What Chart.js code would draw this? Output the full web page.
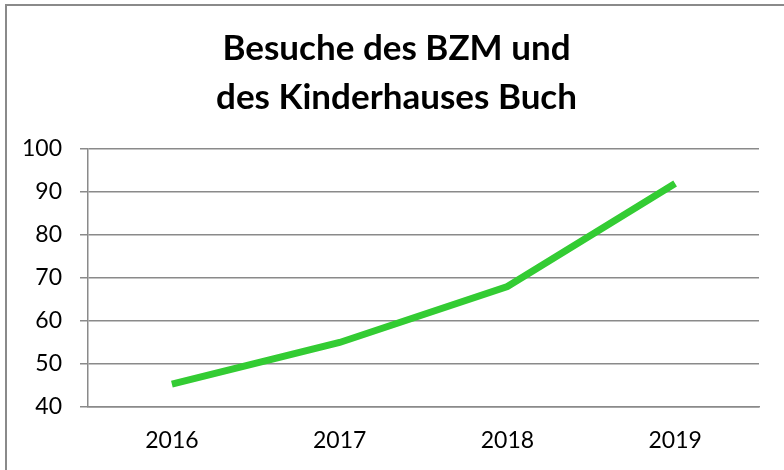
<!DOCTYPE html>
<html>
<head>
<meta charset="utf-8">
<script src="https://cdn.jsdelivr.net/npm/chart.js@4.4.3/dist/chart.umd.min.js"></script>
<style>
  html, body { margin: 0; padding: 0; background: #fff; }
  #wrap { position: relative; width: 784px; height: 470px; overflow: hidden; }
  #frame {
    position: absolute; left: 5px; top: 4px; width: 900px; height: 600px;
    border-left: 2px solid #8a8a8a; border-top: 2px solid #8a8a8a;
  }
  canvas { position: absolute; left: 0; top: 0; }
</style>
</head>
<body>
<div id="wrap">
  <div id="frame"></div>
  <canvas id="c" width="784" height="470"></canvas>
</div>
<script>
  var years = ['2016', '2017', '2018', '2019'];
  var visits = [45.3, 55, 68, 92];
  var titleLines = ['Besuche des BZM und', 'des Kinderhauses Buch'];

  var FONT = 'Lato, "Liberation Sans", sans-serif';

  // the title sits a little right of the plot centre in the original
  var shiftTitle = {
    id: 'shiftTitle',
    afterLayout: function (chart) {
      if (chart.titleBlock) chart.titleBlock.left += 28;
    }
  };

  new Chart(document.getElementById('c'), {
    type: 'line',
    plugins: [shiftTitle],
    data: {
      labels: years,
      datasets: [{
        data: visits,
        borderColor: '#33cc33',
        backgroundColor: '#33cc33',
        borderWidth: 7,
        borderCapStyle: 'butt',
        pointRadius: 0,
        tension: 0,
        fill: false
      }]
    },
    options: {
      responsive: false,
      animation: false,
      layout: { padding: { left: 6, right: 25, top: 0, bottom: 0 } },
      plugins: {
        legend: { display: false },
        tooltip: { enabled: false },
        title: {
          display: true,
          text: titleLines,
          color: '#000',
          font: { family: FONT, size: 35, weight: 'bold', lineHeight: 1.4 },
          padding: { top: 24, bottom: 27 }
        }
      },
      scales: {
        x: {
          offset: true,
          grid: { display: false, drawTicks: false, offset: true },
          border: { display: true, color: '#8a8a8a', width: 1.5 },
          ticks: { color: '#000', padding: 20, font: { family: FONT, size: 23 } },
          afterFit: function (s) { s.height = 63; }
        },
        y: {
          min: 40,
          max: 100,
          ticks: { stepSize: 10, color: '#000', padding: 18, font: { family: FONT, size: 23 } },
          grid: { color: '#8a8a8a', lineWidth: 1.5, tickLength: 8, drawTicks: true },
          border: { display: true, color: '#8a8a8a', width: 1.5 },
          afterFit: function (s) { s.width = 82; }
        }
      }
    }
  });
</script>
</body>
</html>
